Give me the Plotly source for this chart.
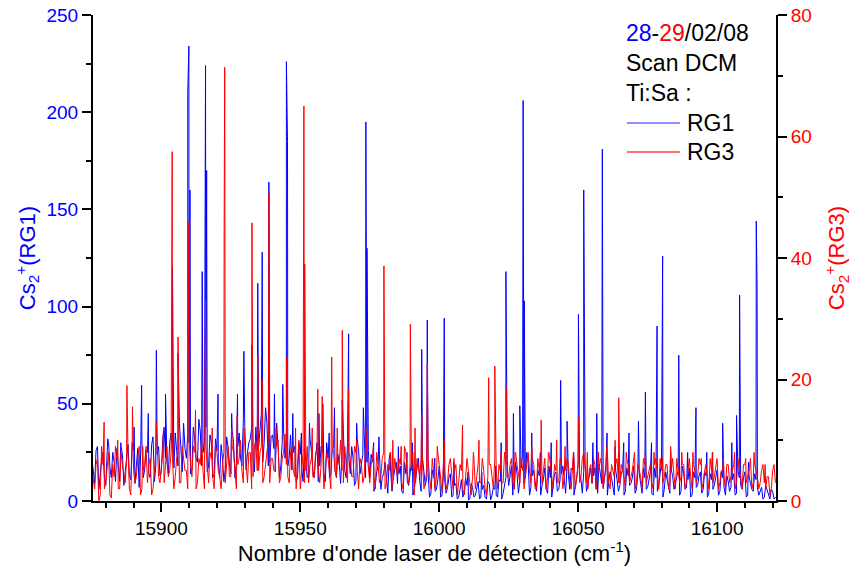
import plotly.graph_objects as go

# ---------------- data ----------------
x_start = 15875  # first wavenumber of the baseline grid

# RG1 (left axis) baseline samples at integer wavenumbers 15875 ... 16121
rg1_base = [
    22, 9, 28, 14, 25, 8, 30, 12, 20, 27,
    10, 24, 15, 29, 11, 26, 18, 7, 31, 16,
    25, 12, 33, 18, 28, 15, 38, 20, 30, 24,
    35, 18, 28, 40, 22, 30, 16, 32, 20, 36,
    25, 38, 18, 30, 14, 26, 12, 22, 16, 28,
    14, 30, 20, 35, 18, 40, 25, 32, 22, 38,
    28, 45, 30, 40, 20, 34, 15, 28, 18, 36,
    30, 22, 16, 28, 12, 24, 10, 20, 14, 26,
    12, 30, 18, 25, 10, 22, 14, 28, 12, 20,
    24, 16, 30, 14, 22, 10, 26, 18, 30, 20,
    12, 20, 8, 18, 6, 14, 10, 22, 5, 16,
    9, 18, 4, 14, 8, 20, 6, 16, 10, 22,
    8, 14, 4, 12, 6, 18, 3, 10, 7, 14,
    3, 9, 2, 11, 4, 8, 1, 7, 3, 10,
    2, 8, 1, 9, 3, 6, 2, 10, 4, 12,
    8, 18, 6, 14, 10, 24, 12, 20, 7, 16,
    5, 13, 8, 17, 4, 12, 9, 15, 6, 14,
    10, 18, 6, 16, 8, 20, 11, 15, 5, 13,
    9, 17, 4, 14, 7, 19, 10, 12, 3, 11,
    8, 16, 5, 13, 9, 18, 6, 14, 4, 12,
    7, 15, 3, 12, 8, 20, 6, 11, 4, 13,
    9, 16, 5, 14, 7, 17, 3, 12, 8, 15,
    6, 13, 4, 11, 8, 16, 5, 12, 3, 10,
    7, 14, 4, 12, 6, 15, 3, 9, 5, 11,
    3, 7, 2, 6, 1, 5, 2,
]
# RG1 baseline samples at half-integer wavenumbers 15875.5 ... 16120.5
rg1_mid = [
    15, 26, 6, 21, 12, 24, 17, 25, 10, 18,
    28, 8, 22, 13, 30, 9, 27, 21, 12, 26,
    14, 29, 10, 24, 13, 32, 22, 14, 35, 17,
    26, 40, 15, 27, 34, 14, 38, 22, 42, 18,
    30, 15, 34, 12, 32, 20, 29, 10, 33, 19,
    36, 12, 28, 22, 42, 16, 30, 38, 15, 26,
    38, 20, 48, 18, 33, 27, 40, 12, 30, 22,
    18, 34, 25, 10, 30, 17, 28, 12, 32, 16,
    22, 10, 28, 14, 30, 12, 26, 16, 24, 9,
    30, 12, 22, 28, 8, 32, 14, 24, 12, 26,
    24, 5, 15, 24, 12, 20, 4, 16, 12, 20,
    14, 5, 20, 10, 16, 3, 12, 22, 5, 15,
    12, 2, 16, 5, 11, 2, 13, 4, 12, 2,
    8, 1, 6, 2, 12, 0.5, 9, 2, 6, 1,
    6, 2, 10, 0.5, 7, 3, 11, 1, 8, 16,
    12, 3, 20, 4, 17, 9, 25, 3, 13, 10,
    16, 3, 11, 6, 18, 2, 14, 5, 11, 18,
    4, 13, 17, 3, 12, 14, 4, 19, 9, 17,
    13, 6, 19, 9, 12, 3, 15, 7, 16, 5,
    14, 3, 17, 8, 12, 4, 15, 9, 17, 6,
    12, 4, 17, 5, 14, 2, 15, 8, 16, 6,
    13, 3, 18, 6, 11, 2, 15, 7, 13, 4,
    15, 2, 14, 6, 12, 3, 15, 7, 13, 5,
    11, 3, 16, 8, 12, 2, 13, 6, 14, 7,
    5, 1, 8, 3, 6, 1,
]

# RG3 (right axis) baseline samples at integer wavenumbers
rg3_base = [
    5, 2, 7, 1, 6, 3, 8, 0.5, 4, 7,
    2, 6, 3, 8, 1, 5, 4, 9, 2, 6,
    3, 7, 2, 8, 4, 6, 3, 9, 5, 7,
    4, 8, 3, 7, 5, 10, 4, 8, 3, 6,
    5, 9, 3, 7, 2, 8, 4, 6, 3, 9,
    4, 8, 2, 7, 5, 9, 3, 8, 4, 10,
    5, 9, 4, 8, 3, 7, 5, 10, 4, 8,
    6, 3, 9, 4, 7, 2, 8, 5, 3, 7,
    4, 8, 3, 9, 5, 7, 2, 8, 4, 6,
    5, 9, 3, 7, 4, 8, 2, 6, 4, 8,
    3, 7, 2, 6, 4, 8, 3, 5, 2, 7,
    4, 6, 2, 8, 3, 5, 1, 7, 4, 6,
    3, 7, 2, 5, 4, 6, 1.5, 5, 3, 7,
    2, 6, 3, 5, 1, 7, 3, 4, 2, 6,
    3, 5, 1, 6, 4, 7, 2, 5, 3, 6,
    4, 7, 2, 6, 3, 5, 4, 8, 3, 6,
    2, 5, 3, 7, 4, 6, 2, 5, 3, 6,
    4, 7, 3, 5, 2, 6, 4, 8, 3, 5,
    3, 6, 4, 7, 2, 5, 3, 6, 4, 7,
    3, 5, 2, 6, 4, 7, 3, 5, 2, 6,
    4, 6, 3, 7, 2, 5, 4, 6, 3, 7,
    2, 5, 4, 6, 3, 7, 2, 5, 4, 6,
    3, 6, 2, 5, 4, 7, 3, 5, 2, 6,
    4, 6, 3, 5, 2, 6, 4, 7, 3, 5,
    2, 5, 3, 4, 1, 5, 3,
]
# RG3 baseline samples at half-integer wavenumbers
rg3_mid = [
    3, 6, 0, 9, 2, 5, 1, 6, 9, 2,
    8, 4, 7, 2, 9, 3, 7, 1, 5, 9,
    6, 1, 5, 9, 3, 8, 6, 4, 8, 2,
    7, 3, 9, 5, 2, 6, 9, 2, 7, 10,
    2, 6, 8, 4, 9, 5, 2, 8, 7, 4,
    9, 5, 6, 10, 3, 6, 8, 2, 9, 5,
    8, 3, 6, 10, 7, 5, 9, 3, 7, 11,
    4, 8, 5, 2, 10, 6, 3, 9, 6, 4,
    8, 5, 6, 2, 8, 4, 9, 5, 7, 10,
    3, 6, 8, 4, 9, 5, 7, 3, 9, 5,
    6, 4, 8, 3, 7, 2, 6, 8, 4, 5,
    7, 3, 9, 4, 6, 8, 3, 5, 7, 2,
    5, 4, 7, 2, 8, 3, 6, 2, 6, 4,
    5, 1, 6, 2, 4, 5, 1, 7, 4, 3,
    7, 2, 4, 6, 2, 5, 6, 3, 8, 4,
    6, 3, 8, 4, 7, 2, 6, 5, 7, 2,
    7, 4, 5, 2, 8, 4, 6, 3, 7, 2,
    5, 6, 2, 7, 4, 3, 7, 5, 2, 6,
    7, 2, 5, 6, 4, 8, 2, 5, 6, 3,
    6, 4, 7, 3, 5, 2, 6, 4, 7, 3,
    5, 2, 6, 4, 7, 3, 6, 2, 5, 4,
    7, 3, 6, 2, 5, 4, 6, 3, 7, 2,
    5, 4, 7, 3, 6, 2, 5, 4, 6, 3,
    5, 2, 7, 4, 6, 3, 5, 2, 6, 4,
    3, 6, 2, 4, 2, 6,
]

# RG1 peaks (wavenumber, signal)
rg1_peak_x = [15880.7, 15885.4, 15890.2, 15892.9, 15895.3, 15898.2, 15901.5, 15904.0, 15906.0, 15909.5,
              15909.9, 15910.3, 15914.7, 15915.9, 15916.3, 15920.4, 15925.3, 15927.4, 15929.7, 15932.6,
              15934.7, 15936.3, 15938.7, 15940.7, 15943.7, 15945.0, 15945.4, 15947.3, 15950.4, 15953.3,
              15956.7, 15958.1, 15960.4, 15962.3, 15965.1, 15967.4, 15970.3, 15972.7, 15973.6, 15974.0,
              15976.4, 15978.3, 15982.4, 15985.3, 15988.4, 15990.3, 15993.7, 15995.7, 15998.4, 16001.8,
              16005.3, 16010.4, 16015.3, 16020.4, 16022.3, 16024.0, 16026.7, 16029.0, 16030.2, 16030.6,
              16033.3, 16036.4, 16040.3, 16043.7, 16046.0, 16048.4, 16050.1, 16052.0, 16055.3, 16056.7,
              16058.7, 16060.4, 16063.3, 16066.4, 16068.3, 16071.7, 16074.2, 16076.4, 16078.4, 16080.4,
              16083.3, 16086.2, 16089.4, 16092.4, 16096.3, 16098.4, 16102.0, 16105.3, 16107.0, 16108.1,
              16111.3, 16114.1, 16114.4]
rg1_peak_y = [32, 30, 38, 59.5, 45, 77.5, 55, 120, 76, 210,
              234, 160, 118, 224, 170, 55, 45, 55, 77, 80,
              112, 128, 164, 55, 60, 226, 185, 45, 35, 40,
              45, 50, 35, 48, 52, 86, 40, 48, 195, 130,
              30, 33, 25, 28, 25, 30, 78, 93, 22, 94,
              20, 15, 15, 18, 30, 118, 45, 49, 206, 103,
              35, 25, 30, 62, 41, 25, 96, 160, 30, 45,
              181, 35, 28, 30, 35, 41, 56, 30, 90, 126,
              25, 75, 25, 48, 25, 25, 40, 30, 44, 106,
              20, 144, 110]

# RG3 peaks (wavenumber, signal)
rg3_peak_x = [15879.4, 15884.3, 15887.6, 15889.6, 15893.3, 15898.2, 15900.7, 15903.6, 15903.9, 15906.0,
              15909.9, 15912.3, 15915.9, 15918.3, 15922.6, 15922.8, 15925.3, 15927.3, 15929.7, 15932.6,
              15934.7, 15936.3, 15938.7, 15938.9, 15941.3, 15945.0, 15948.3, 15951.3, 15951.6, 15954.3,
              15956.3, 15957.9, 15961.3, 15963.3, 15965.1, 15967.4, 15970.3, 15973.6, 15976.3, 15980.1,
              15983.3, 15986.3, 15989.6, 15991.3, 15993.7, 15995.7, 15999.3, 16001.8, 16005.3, 16008.4,
              16012.3, 16014.3, 16017.8, 16020.0, 16022.3, 16024.1, 16027.3, 16030.3, 16033.3, 16036.7,
              16039.3, 16042.3, 16045.3, 16048.3, 16050.1, 16053.3, 16057.3, 16060.3, 16063.3, 16064.6,
              16067.3, 16070.3, 16074.2, 16077.3, 16080.3, 16083.3, 16087.3, 16091.3, 16094.3, 16098.3,
              16102.3, 16106.3, 16110.3, 16113.3, 16117.3]
rg3_peak_y = [13, 10, 19, 15.5, 9, 13, 11, 38, 57.5, 27,
              46, 15, 33, 12, 45, 71.4, 12, 14, 12, 45.8,
              24, 20, 50.7, 40, 12, 23.7, 12, 65, 39, 12,
              18.4, 17.2, 23.7, 12, 28.1, 18.5, 10, 12, 9, 38.7,
              10, 9, 29.1, 12, 14.4, 22.6, 9, 10, 7, 12.5,
              8, 10, 20.3, 22.2, 8, 18.8, 8, 7, 9, 13.3,
              8, 10, 9, 8, 13.6, 8, 8, 9, 10, 17,
              8, 8, 8.3, 8, 7, 9, 8, 8, 7, 8,
              7, 8, 7, 8, 6]

x_ticks = [15900, 15950, 16000, 16050, 16100]
left_ticks = [0, 50, 100, 150, 200, 250]
right_ticks = [0, 20, 40, 60, 80]


def merge(base, mid, px, py):
    pts = ([(x_start + i, v) for i, v in enumerate(base)]
           + [(x_start + 0.5 + i, v) for i, v in enumerate(mid)]
           + list(zip(px, py)))
    pts.sort(key=lambda p: p[0])
    return [p[0] for p in pts], [p[1] for p in pts]


x1, y1 = merge(rg1_base, rg1_mid, rg1_peak_x, rg1_peak_y)
x3, y3 = merge(rg3_base, rg3_mid, rg3_peak_x, rg3_peak_y)

FONT = "Arial, Liberation Sans, sans-serif"
BLUE = "#0000ff"
RED = "#ff0000"

fig = go.Figure()
fig.add_trace(go.Scatter(x=x1, y=y1, mode="lines", name="RG1",
                         line=dict(color=BLUE, width=1), yaxis="y"))
fig.add_trace(go.Scatter(x=x3, y=y3, mode="lines", name="RG3",
                         line=dict(color=RED, width=1), yaxis="y2"))

axis_common = dict(showgrid=False, zeroline=False, showline=True, linecolor="black", automargin=False,
                   linewidth=2, ticks="outside", ticklen=9, tickwidth=2, tickcolor="black",
                   ticklabeloverflow="allow")

fig.update_layout(
    width=854, height=566,
    margin=dict(l=93, r=78, t=15, b=65),
    paper_bgcolor="white", plot_bgcolor="white",
    showlegend=False,
    font=dict(family=FONT, size=18, color="black"),
    xaxis=dict(range=[15875.4, 16121.2], tickvals=x_ticks, tickformat="d",
               tickfont=dict(size=19, color="black"),
               minor=dict(dtick=10, tick0=15900, ticks="outside", ticklen=5, tickwidth=2, tickcolor="black"),
               title=dict(text="Nombre d'onde laser de détection (cm<sup>-1</sup>)",
                          font=dict(size=22, color="black"), standoff=0),
               **axis_common),
    yaxis=dict(range=[0, 250], tickvals=left_ticks,
               tickfont=dict(size=19, color=BLUE),
               minor=dict(dtick=25, tick0=0, ticks="outside", ticklen=5, tickwidth=2, tickcolor="black"),
               title=dict(text="Cs<sub>2</sub><sup>+</sup>(RG1)", font=dict(size=22, color=BLUE), standoff=5),
               **axis_common),
    yaxis2=dict(range=[0, 80], tickvals=right_ticks, overlaying="y", side="right",
                tickfont=dict(size=19, color=RED),
                minor=dict(dtick=10, tick0=0, ticks="outside", ticklen=5, tickwidth=2, tickcolor="black"),
                title=dict(text="Cs<sub>2</sub><sup>+</sup>(RG3)", font=dict(size=22, color=RED), standoff=18),
                **axis_common),
)

# text block and legend (top right)
lx0, lx1, tx = 0.7818, 0.8594, 0.8712
info_lines = [
    ("<span style='color:#0000ff'>28</span>-<span style='color:#ff0000'>29</span>/02/08", 0.963),
    ("Scan DCM", 0.9012),
    ("Ti:Sa :", 0.8395),
]
for txt, yy in info_lines:
    fig.add_annotation(x=lx0, y=yy, xref="paper", yref="paper", text=txt, showarrow=False,
                       xanchor="left", yanchor="middle", xshift=-3,
                       font=dict(size=23, color="black", family=FONT))
for name, col, yy in [("RG1", "#6a6aff", 0.7778), ("RG3", "#ff4040", 0.7181)]:
    fig.add_shape(type="line", xref="paper", yref="paper", x0=lx0, x1=lx1, y0=yy, y1=yy,
                  line=dict(color=col, width=1.5))
    fig.add_annotation(x=tx, y=yy, xref="paper", yref="paper", text=name, showarrow=False,
                       xanchor="left", yanchor="middle", xshift=-3,
                       font=dict(size=23, color="black", family=FONT))

# remove the default 8 px page margin so the figure sits at the window's top-left corner
fig.write_html("out.html", config={"displayModeBar": False},
               post_script="document.body.style.margin='0';")
